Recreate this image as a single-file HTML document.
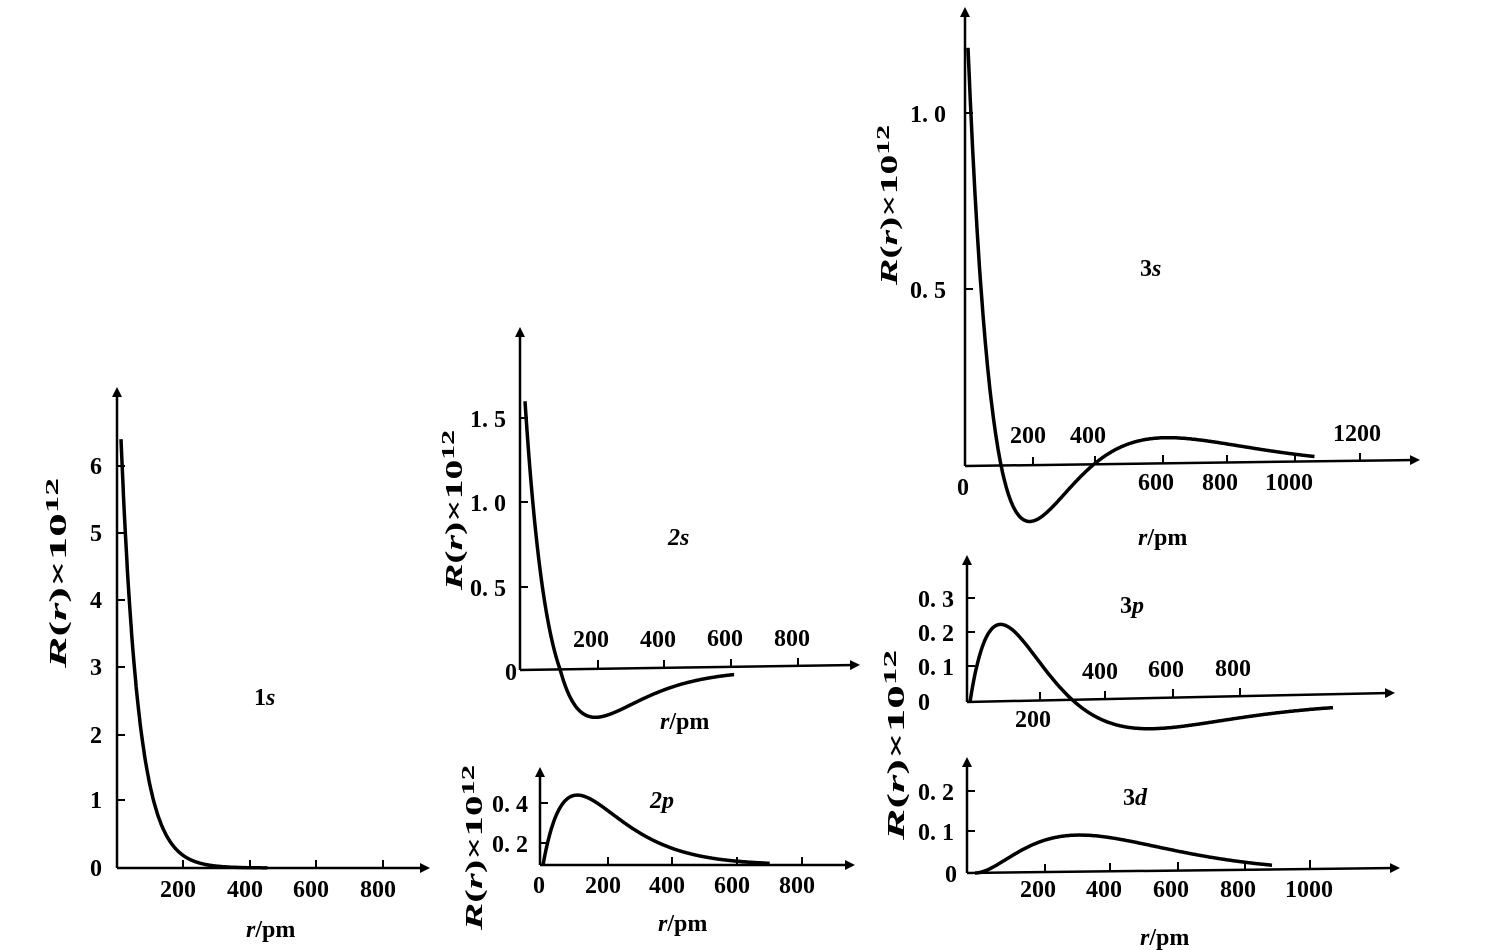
<!DOCTYPE html>
<html><head><meta charset="utf-8"><style>
html,body{margin:0;padding:0;background:#fff;}
svg{display:block;}
text{font-family:"Liberation Serif",serif;font-size:24px;fill:#000;font-weight:bold;}
.n{font-family:"Liberation Serif",serif;font-size:23px;}
.i{font-style:italic;}
</style></head><body>
<svg id="s" width="1501" height="950" viewBox="0 0 1501 950" xmlns="http://www.w3.org/2000/svg">
<defs><marker id="a" markerWidth="10" markerHeight="10" refX="5" refY="5" orient="auto" markerUnits="userSpaceOnUse"><path d="M0,0 L10,5 L0,10 z" fill="#000"/></marker></defs>
<g stroke="#000" stroke-width="2.5" fill="none">
<line x1="117" y1="868" x2="117" y2="392" marker-end="url(#a)"/>
<line x1="117" y1="868" x2="425" y2="868" marker-end="url(#a)"/>
<line x1="520" y1="670" x2="520" y2="332" marker-end="url(#a)"/>
<line x1="520" y1="670" x2="855" y2="665" marker-end="url(#a)"/>
<line x1="540" y1="865" x2="540" y2="772" marker-end="url(#a)"/>
<line x1="540" y1="865" x2="850" y2="865" marker-end="url(#a)"/>
<line x1="965" y1="466" x2="965" y2="12" marker-end="url(#a)"/>
<line x1="965" y1="466" x2="1415" y2="460" marker-end="url(#a)"/>
<line x1="967" y1="702" x2="967" y2="560" marker-end="url(#a)"/>
<line x1="967" y1="702" x2="1390" y2="693" marker-end="url(#a)"/>
<line x1="967" y1="873" x2="967" y2="762" marker-end="url(#a)"/>
<line x1="967" y1="873" x2="1395" y2="868" marker-end="url(#a)"/>
</g>
<g stroke="#000" stroke-width="2">
<path d="M117,800h8M117,735h8M117,667h8M117,600h8M117,533h8M117,466h8M183,868v-8M250,868v-8M316,868v-8M383,868v-8"/>
<path d="M520,587h8M520,502h8M520,418h8M598,668v-8M664,668v-8M731,667v-8M798,666v-8"/>
<path d="M540,843h8M540,803h8M608,865v-8M672,865v-8M737,865v-8M802,865v-8"/>
<path d="M965,289h8M965,113h8M1033,465v-8M1095,464v-8M1163,463v-8M1227,463v-8M1295,462v-8M1360,461v-8"/>
<path d="M967,666h8M967,632h8M967,598h8M1040,700v-8M1105,699v-8M1173,697v-8M1240,696v-8"/>
<path d="M967,831h8M967,791h8M1045,872v-8M1110,871v-8M1178,870v-8M1245,869v-8M1310,868v-8"/>
</g>
<g id="curves" stroke="#000" stroke-width="3.5" fill="none"></g>
<g class="n">
<text x="90" y="876">0</text><text x="90" y="808">1</text><text x="90" y="743">2</text><text x="90" y="675">3</text><text x="90" y="608">4</text><text x="90" y="541">5</text><text x="90" y="474">6</text>
<text x="160" y="897">200</text><text x="227" y="897">400</text><text x="293" y="897">600</text><text x="360" y="897">800</text>
<text x="505" y="680">0</text><text x="470" y="596">0. 5</text><text x="470" y="511">1. 0</text><text x="470" y="427">1. 5</text>
<text x="573" y="647">200</text><text x="640" y="647">400</text><text x="707" y="646">600</text><text x="774" y="646">800</text>
<text x="492" y="852">0. 2</text><text x="492" y="812">0. 4</text>
<text x="533" y="893">0</text><text x="585" y="893">200</text><text x="649" y="893">400</text><text x="714" y="893">600</text><text x="779" y="893">800</text>
<text x="910" y="298">0. 5</text><text x="910" y="122">1. 0</text><text x="957" y="495">0</text>
<text x="1010" y="443">200</text><text x="1070" y="443">400</text><text x="1333" y="441">1200</text>
<text x="1138" y="490">600</text><text x="1202" y="490">800</text><text x="1265" y="490">1000</text>
<text x="918" y="710">0</text><text x="918" y="675">0. 1</text><text x="918" y="641">0. 2</text><text x="918" y="607">0. 3</text>
<text x="1015" y="727">200</text><text x="1082" y="679">400</text><text x="1148" y="677">600</text><text x="1215" y="676">800</text>
<text x="945" y="882">0</text><text x="918" y="840">0. 1</text><text x="918" y="800">0. 2</text>
<text x="1020" y="897">200</text><text x="1086" y="897">400</text><text x="1153" y="897">600</text><text x="1220" y="897">800</text><text x="1285" y="897">1000</text>
</g>
<g>
<text x="246" y="937"><tspan class="i">r</tspan>/pm</text>
<text x="660" y="729"><tspan class="i">r</tspan>/pm</text>
<text x="658" y="931"><tspan class="i">r</tspan>/pm</text>
<text x="1138" y="545"><tspan class="i">r</tspan>/pm</text>
<text x="1140" y="945"><tspan class="i">r</tspan>/pm</text>
<text x="254" y="705">1<tspan class="i">s</tspan></text>
<text x="668" y="545" class="i">2s</text>
<text x="650" y="808" class="i">2p</text>
<text x="1140" y="276">3<tspan class="i">s</tspan></text>
<text x="1120" y="613">3<tspan class="i">p</tspan></text>
<text x="1123" y="805">3<tspan class="i">d</tspan></text>
<text transform="translate(66,668) rotate(-90)" textLength="190" lengthAdjust="spacingAndGlyphs" font-size="26"><tspan class="i">R</tspan>(<tspan class="i">r</tspan>)×10<tspan dy="-8" font-size="18">12</tspan></text>
<text transform="translate(462,590) rotate(-90)" textLength="160" lengthAdjust="spacingAndGlyphs" font-size="26"><tspan class="i">R</tspan>(<tspan class="i">r</tspan>)×10<tspan dy="-8" font-size="18">12</tspan></text>
<text transform="translate(482,930) rotate(-90)" textLength="165" lengthAdjust="spacingAndGlyphs" font-size="26"><tspan class="i">R</tspan>(<tspan class="i">r</tspan>)×10<tspan dy="-8" font-size="18">12</tspan></text>
<text transform="translate(897,285) rotate(-90)" textLength="160" lengthAdjust="spacingAndGlyphs" font-size="26"><tspan class="i">R</tspan>(<tspan class="i">r</tspan>)×10<tspan dy="-8" font-size="18">12</tspan></text>
<text transform="translate(904,840) rotate(-90)" textLength="190" lengthAdjust="spacingAndGlyphs" font-size="26"><tspan class="i">R</tspan>(<tspan class="i">r</tspan>)×10<tspan dy="-8" font-size="18">12</tspan></text>
</g>
</svg>
<script>
(function(){
var g=document.getElementById('curves');
function P(f,r0,r1,ox,oy,sx,sy){var d='';for(var r=r0;r<=r1;r+=(r1-r0)/300){var x=ox+r*sx,y=oy-f(r)*sy;d+=(d?'L':'M')+x.toFixed(1)+','+y.toFixed(1);}
var p=document.createElementNS('http://www.w3.org/2000/svg','path');p.setAttribute('d',d);g.appendChild(p);}
var a=52.9;
P(function(r){return 6.4*Math.exp(-r/a);},0,440,121,868,0.333,67);
P(function(r){var p=r/a;var v=0.8*(2-p)*Math.exp(-p/2);return v<0?v*1.3:v;},0,630,525,670,0.333,168);
P(function(r){var p=r/a;return 0.475*p*Math.exp(-p/2);},0,700,543,865,0.325,200);
P(function(r){var p=r/a;return 0.044*(27-18*p+2*p*p)*Math.exp(-p/3);},0,1050,968,466,0.33,352);
P(function(r){var p=r/a;return 0.055*p*(6-p)*Math.exp(-p/3);},0,1100,970,702,0.33,340);
P(function(r){var p=r/a;return 0.019*p*p*Math.exp(-p/3);},0,900,975,873,0.33,410);
})();
</script>
</body></html>
